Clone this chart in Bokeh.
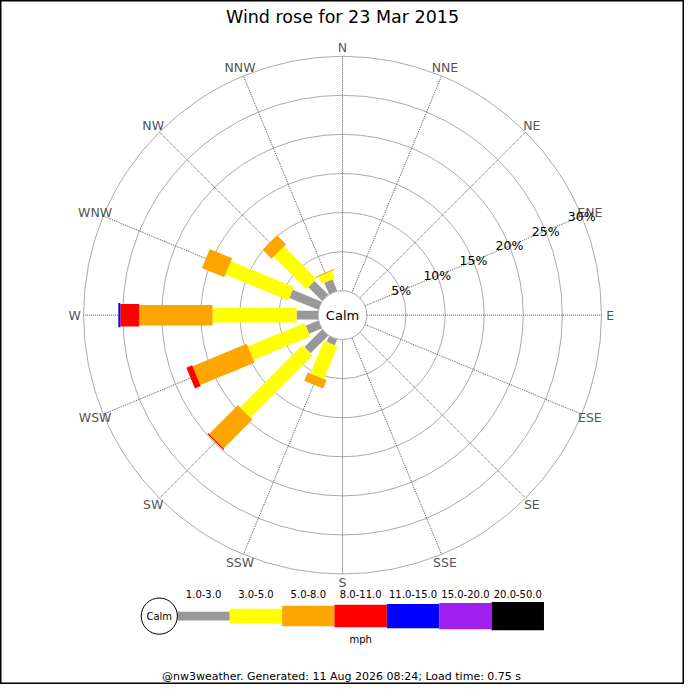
import numpy as np
from bokeh.plotting import figure
from bokeh.models import Range1d
from bokeh.core.properties import value
from bokeh.embed import file_html
from bokeh.resources import INLINE

title = "Wind rose for 23 Mar 2015"
footer = "@nw3weather. Generated: 11 Aug 2026 08:24; Load time: 0.75 s"

directions = ["N", "NNE", "NE", "ENE", "E", "ESE", "SE", "SSE",
              "S", "SSW", "SW", "WSW", "W", "WNW", "NW", "NNW"]
speed_bins = ["1.0-3.0", "3.0-5.0", "5.0-8.0", "8.0-11.0",
              "11.0-15.0", "15.0-20.0", "20.0-50.0"]
bin_colors = ["#999999", "#ffff00", "#ffa500", "#ff0000",
              "#0000ff", "#a020f0", "#000000"]

# percent of the day per direction, one list per speed band (mph)
freq_1_3 = [0, 0, 0, 0, 0, 0, 0, 0, 0, 0.8, 3.2, 1.75, 2.75, 4.0, 2.5, 1.6]
freq_3_5 = [0, 0, 0, 0, 0, 0, 0, 0, 0, 4.55, 11.3, 7.85, 10.75, 8.7, 5.9, 1.0]
freq_5_8 = [0, 0, 0, 0, 0, 0, 0, 0, 0, 1.15, 5.2, 7.5, 9.4, 3.1, 1.6, 0.15]
freq_8_11 = [0, 0, 0, 0, 0, 0, 0, 0, 0, 0, 0.15, 0.8, 2.4, 0, 0, 0]
freq_11_15 = [0, 0, 0, 0, 0, 0, 0, 0, 0, 0, 0, 0, 0.25, 0, 0, 0]
freq_15_20 = [0] * 16
freq_20_50 = [0] * 16
bands = [freq_1_3, freq_3_5, freq_5_8, freq_8_11, freq_11_15, freq_15_20, freq_20_50]

ring_pcts = [5, 10, 15, 20, 25, 30]

# geometry (pixels of the reference picture)
calm_r = 25
px_per_pct = 8
bar_widths = [9, 15, 21, 23, 25, 27, 29]
font = value("DejaVu Sans")

p = figure(width=684, height=684, x_range=Range1d(-350, 350), y_range=Range1d(-378, 322),
           toolbar_location=None, output_backend="svg", min_border=0)
p.axis.visible = False
p.grid.visible = False
p.outline_line_color = "black"
p.outline_line_width = 2
p.background_fill_color = "white"

# rings
ring_r = [calm_r + px_per_pct * v for v in ring_pcts]
p.circle(x=[0] * len(ring_r), y=[0] * len(ring_r), radius=ring_r,
         fill_color=None, line_color="#aaaaaa", line_width=1)

# spokes
bearing = np.radians(np.arange(16) * 22.5)
r_out = ring_r[-1]
p.segment(x0=calm_r * np.sin(bearing), y0=calm_r * np.cos(bearing),
          x1=r_out * np.sin(bearing), y1=r_out * np.cos(bearing),
          line_color="#555555", line_dash="1 1", line_width=1)

# stacked bars
cum = np.zeros(16)
for band, color, w in zip(bands, bin_colors, bar_widths):
    f = np.array(band, dtype=float)
    start = cum.copy()
    cum = cum + f
    keep = f > 0
    if not keep.any():
        continue
    rc = calm_r + px_per_pct * (start + cum) / 2
    b = bearing[keep]
    p.rect(x=rc[keep] * np.sin(b), y=rc[keep] * np.cos(b),
           width=px_per_pct * f[keep], height=w,
           angle=np.pi / 2 - b, fill_color=color, line_color=None)

# calm circle
p.circle(x=[0], y=[0], radius=calm_r, fill_color="white", line_color="#aaaaaa")
p.text(x=[0], y=[0], text=["Calm"], text_font=font, text_font_size="13px",
       text_align="center", text_baseline="middle", text_color="black")

# direction labels
lab_r = 274
p.text(x=lab_r * np.sin(bearing), y=lab_r * np.cos(bearing), text=directions,
       text_font=font, text_font_size="12.5px", text_color="#555555",
       text_align="center", text_baseline="middle")

# percent labels along ENE
ene = np.radians(67.5)
p.text(x=[r * np.sin(ene) for r in ring_r], y=[r * np.cos(ene) for r in ring_r],
       text=[f"{v}%" for v in ring_pcts], text_font=font, text_font_size="12.5px",
       text_color="black", text_align="center", text_baseline="middle")

# title and footer
p.text(x=[0], y=[305], text=[title], text_font=font, text_font_size="17.5px",
       text_align="center", text_baseline="middle", text_color="black")
p.text(x=[-1], y=[-370], text=[footer], text_font=font, text_font_size="11px",
       text_align="center", text_baseline="middle", text_color="black")

# legend
leg_y = -308
seg_w = 53.6
leg_x0 = -169
seg_x = [leg_x0 + seg_w * (i + 0.5) for i in range(len(speed_bins))]
p.rect(x=seg_x, y=[leg_y] * len(seg_x), width=seg_w, height=bar_widths,
       fill_color=bin_colors, line_color=None)
p.text(x=seg_x, y=[leg_y + 23] * len(seg_x), text=speed_bins, text_font=font,
       text_font_size="10px", text_align="center", text_baseline="middle", text_color="black")
p.circle(x=[leg_x0 - 18.5], y=[leg_y], radius=18.5, fill_color="white", line_color="black")
p.text(x=[leg_x0 - 18.5], y=[leg_y], text=["Calm"], text_font=font, text_font_size="10px",
       text_align="center", text_baseline="middle", text_color="black")
p.text(x=[leg_x0 + seg_w * 3.5], y=[leg_y - 24], text=["mph"], text_font=font,
       text_font_size="10px", text_align="center", text_baseline="middle", text_color="black")

open("out.html", "w").write(file_html(p, INLINE))
